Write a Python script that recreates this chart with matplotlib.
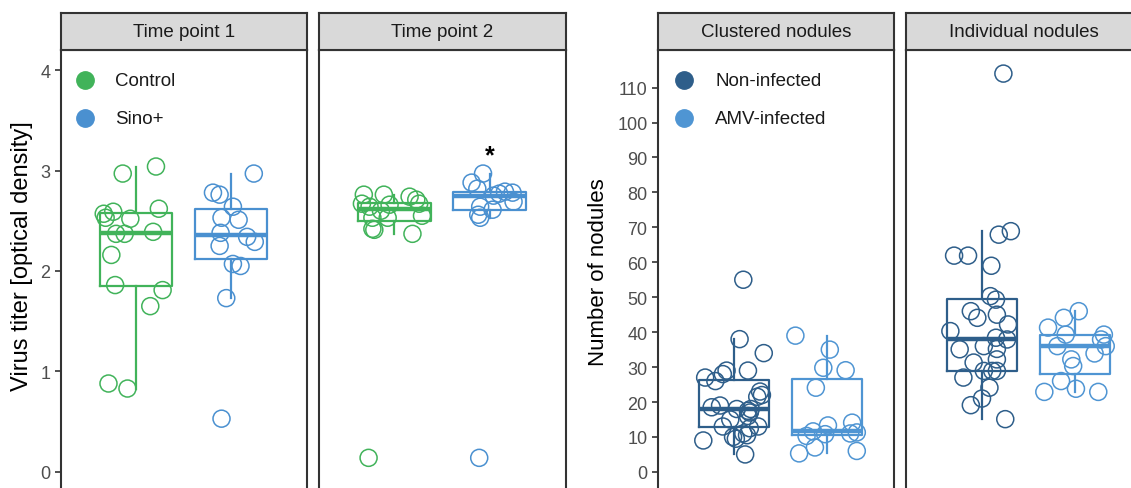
import matplotlib
matplotlib.use('Agg')
import matplotlib.pyplot as plt

plt.rcParams['font.family'] = ['Liberation Sans', 'DejaVu Sans']

# ---- data ----
groups_left = ['Control', 'Sino+']
groups_right = ['Non-infected', 'AMV-infected']
panels_left = ['Time point 1', 'Time point 2']
panels_right = ['Clustered nodules', 'Individual nodules']

tp1_control = [3.04, 2.97, 2.62, 2.59, 2.57, 2.53, 2.52, 2.39, 2.37, 2.37, 2.16, 1.86, 1.81, 1.65, 0.88, 0.83]
tp1_control_dx = [0.21, -0.14, 0.24, -0.24, -0.34, -0.32, -0.06, 0.18, -0.21, -0.12, -0.26, -0.22, 0.28, 0.15, -0.29, -0.09]
tp1_sino = [2.97, 2.78, 2.76, 2.64, 2.53, 2.51, 2.38, 2.34, 2.29, 2.25, 2.07, 2.05, 1.73, 0.53]
tp1_sino_dx = [0.24, -0.19, -0.12, 0.02, -0.10, 0.08, -0.11, 0.17, 0.25, -0.12, 0.02, 0.10, -0.05, -0.10]

tp2_control = [2.76, 2.76, 2.74, 2.71, 2.67, 2.64, 2.66, 2.67, 2.60, 2.53, 2.53, 2.55, 2.42, 2.41, 2.37, 0.14]
tp2_control_dx = [-0.32, -0.11, 0.16, 0.23, -0.34, -0.26, -0.05, 0.26, -0.14, -0.23, -0.07, 0.29, -0.23, -0.21, 0.19, -0.27]
tp2_sino = [2.97, 2.88, 2.82, 2.77, 2.79, 2.78, 2.75, 2.69, 2.61, 2.64, 2.56, 2.53, 0.14]
tp2_sino_dx = [-0.07, -0.19, -0.13, 0.10, 0.16, 0.24, 0.04, 0.25, 0.03, -0.10, -0.12, -0.10, -0.11]

clust_noninf = [55, 38, 34, 29, 29, 28, 27, 26, 23, 22, 21.5, 19, 18.5, 18, 18, 17.5, 17, 16, 15, 13, 13, 12.5, 11, 10.5, 10, 9.5, 9, 5]
clust_noninf_dx = [0.10, 0.06, 0.32, 0.15, -0.08, -0.12, -0.31, -0.20, 0.28, 0.30, 0.25, -0.15, -0.24, 0.03, 0.18, 0.15, 0.17, 0.15, -0.04, -0.12, 0.26, 0.17, 0.10, 0.14, -0.01, 0.02, -0.33, 0.12]
clust_amv = [39, 35, 29.8, 29.1, 24.1, 14.1, 13.3, 11.6, 11.3, 11, 10.8, 10.3, 7, 6, 5.3]
clust_amv_dx = [-0.34, 0.03, -0.04, 0.20, -0.12, 0.27, 0.01, -0.15, 0.32, 0.25, -0.02, -0.22, -0.13, 0.32, -0.30]

indiv_noninf = [114, 68.9, 67.9, 61.9, 61.9, 59, 50.3, 49.3, 46, 45, 44.1, 42.2, 40.3, 38.4, 37.9, 36, 35.2, 35.1, 32.2, 31.3, 28.9, 28.9, 28.9, 27, 24.1, 21, 19.1, 15.1]
indiv_noninf_dx = [0.23, 0.31, 0.18, -0.30, -0.15, 0.10, 0.09, 0.15, -0.12, 0.16, -0.05, 0.28, -0.34, 0.15, 0.27, 0.02, 0.16, -0.24, 0.16, -0.09, 0.02, 0.11, 0.16, -0.20, 0.08, 0.00, -0.12, 0.25]
indiv_amv = [46, 44.1, 41.3, 39.3, 39.3, 37.9, 36, 36, 33.9, 32.2, 30.3, 26, 23.8, 22.9, 22.9]
indiv_amv_dx = [0.04, -0.12, -0.29, -0.10, 0.31, 0.28, 0.33, -0.19, 0.21, -0.04, -0.02, -0.15, 0.01, -0.33, 0.25]

left_ticks = [0, 1, 2, 3, 4]
right_ticks = [0, 10, 20, 30, 40, 50, 60, 70, 80, 90, 100, 110]

c_green = '#41B35A'
c_blue = '#4A90D0'
c_dark = '#2E5E8A'
c_light = '#4F95D3'
edge = '#333333'

W, H = 1131, 489
fig = plt.figure(figsize=(W / 100, H / 100), dpi=100)


def px_axes(l, t, r, b):
    return fig.add_axes([l / W, 1 - b / H, (r - l) / W, (b - t) / H])


def panel(l, r, title, data, colors, ylim, xlim):
    ax = px_axes(l, 51, r, 493)
    strip = px_axes(l, 14, r, 51)
    strip.set_facecolor('#D9D9D9')
    strip.set_xticks([])
    strip.set_yticks([])
    for s in strip.spines.values():
        s.set_color(edge)
        s.set_linewidth(1.5)
    strip.text(0.5, 0.5, title, ha='center', va='center', fontsize=13.5, color='#1A1A1A',
               transform=strip.transAxes)

    for i, (vals, dx, col) in enumerate(zip(data[0], data[1], colors)):
        pos = i + 1
        ax.boxplot(vals, positions=[pos], widths=0.76, showfliers=False, showcaps=False,
                   whis=1.5, patch_artist=False,
                   boxprops=dict(color=col, linewidth=1.6),
                   whiskerprops=dict(color=col, linewidth=1.6),
                   medianprops=dict(color=col, linewidth=3.2, solid_capstyle='butt'))
        ax.scatter([pos + d for d in dx], vals, s=150, facecolors='none', edgecolors=col,
                   linewidths=1.1, zorder=3)

    ax.set_xlim(*xlim)
    ax.set_ylim(*ylim)
    ax.set_xticks([])
    for s in ax.spines.values():
        s.set_color(edge)
        s.set_linewidth(1.5)
    ax.tick_params(axis='y', length=4, width=1.2, color=edge, labelsize=13, labelcolor='#4D4D4D')
    return ax


def key(ax, labels, colors, xm, xt):
    # legend drawn inside the panel, positions in axes fraction
    for lab, col, y in zip(labels, colors, [0.932, 0.846]):
        ax.plot([xm], [y], marker='o', ms=12.5, color=col, ls='none', transform=ax.transAxes,
                clip_on=False)
        ax.text(xt, y, lab, ha='left', va='center', fontsize=13.5, color='#1A1A1A',
                transform=ax.transAxes)


ax1 = panel(61, 307, panels_left[0], ([tp1_control, tp1_sino], [tp1_control_dx, tp1_sino_dx]),
            [c_green, c_blue], (-0.2, 4.2), (0.21, 2.8))
ax2 = panel(319, 566, panels_left[1], ([tp2_control, tp2_sino], [tp2_control_dx, tp2_sino_dx]),
            [c_green, c_blue], (-0.2, 4.2), (0.21, 2.8))
ax3 = panel(658, 894, panels_right[0], ([clust_noninf, clust_amv], [clust_noninf_dx, clust_amv_dx]),
            [c_dark, c_light], (-5.75, 120.75), (0.183, 2.72))
ax4 = panel(906, 1142, panels_right[1], ([indiv_noninf, indiv_amv], [indiv_noninf_dx, indiv_amv_dx]),
            [c_dark, c_light], (-5.75, 120.75), (0.183, 2.72))

ax1.set_yticks(left_ticks)
ax3.set_yticks(right_ticks)
ax2.set_yticks([])
ax4.set_yticks([])

# significance mark
ax2.text(2, 3.15, '*', ha='center', va='center', fontsize=18, fontweight='bold', color='black')

fig.text(22 / W, 1 - 256 / H, 'Virus titer [optical density]', rotation=90, ha='center', va='center',
         fontsize=17, color='black')
fig.text(598 / W, 1 - 272 / H, 'Number of nodules', rotation=90, ha='center', va='center',
         fontsize=16, color='black')

key(ax1, groups_left, [c_green, c_blue], 0.0976, 0.2195)
key(ax3, groups_right, [c_dark, c_light], 0.110, 0.242)

fig.savefig('out.png', dpi=100)
